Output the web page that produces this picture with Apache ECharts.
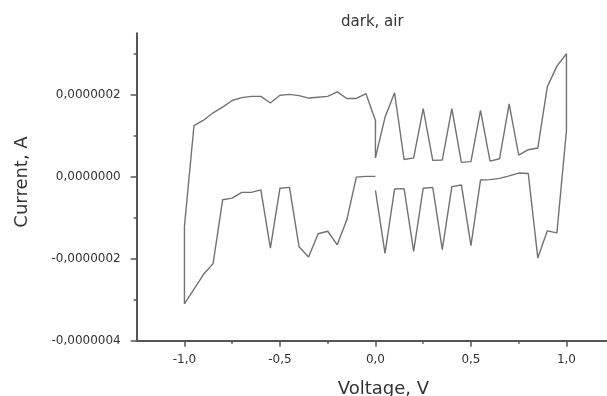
<!DOCTYPE html>
<html>
<head>
<meta charset="utf-8">
<script src="https://cdn.jsdelivr.net/npm/echarts@6/dist/echarts.min.js"></script>
<style>html,body{margin:0;padding:0;background:#fff}#c{width:607px;height:396px}</style>
</head>
<body>
<div id="c"></div>
<script>
// Voltage (V) and current (units of 1e-7 A), in sweep order
var voltage = [0.00,-0.05,-0.10,-0.15,-0.20,-0.25,-0.30,-0.35,-0.40,-0.45,-0.50,-0.55,-0.60,-0.65,-0.70,-0.75,-0.80,-0.85,-0.90,-0.95,-1.00,-1.00,
  -0.95,-0.90,-0.85,-0.80,-0.75,-0.70,-0.65,-0.60,-0.55,-0.50,-0.45,-0.40,-0.35,-0.30,-0.25,-0.20,-0.15,-0.10,-0.05,0.00,
  0.00,0.05,0.10,0.15,0.20,0.25,0.30,0.35,0.40,0.45,0.50,0.55,0.60,0.65,0.70,0.75,0.80,0.85,0.90,0.95,1.00,
  1.00,0.95,0.90,0.85,0.80,0.75,0.70,0.65,0.60,0.55,0.50,0.45,0.40,0.35,0.30,0.25,0.20,0.15,0.10,0.05,0.00];
var current = [0.01,0.01,-0.01,-1.05,-1.66,-1.33,-1.39,-1.96,-1.71,-0.26,-0.28,-1.74,-0.32,-0.38,-0.38,-0.52,-0.56,-2.12,-2.38,-2.74,-3.10,-1.21,
  1.25,1.38,1.56,1.70,1.86,1.93,1.96,1.96,1.80,1.99,2.01,1.98,1.92,1.94,1.96,2.07,1.91,1.91,2.03,1.37,
  0.46,1.45,2.05,0.42,0.46,1.66,0.40,0.41,1.66,0.35,0.37,1.62,0.38,0.44,1.78,0.53,0.66,0.70,2.20,2.70,3.00,
  1.13,-1.37,-1.32,-1.98,0.08,0.09,0.02,-0.04,-0.07,-0.08,-1.68,-0.20,-0.24,-1.78,-0.26,-0.28,-1.82,-0.29,-0.30,-1.87,-0.33];
var currentUnit = 1e-7;
var xMajorTicks = [-1.0,-0.5,0.0,0.5,1.0];
var xMinorTicks = [-0.75,-0.25,0.25,0.75];
var yMajorTicks = [-4,-2,0,2];
var yMinorTicks = [-3,-1,1,3];
var titleText = 'dark, air';
var xName = 'Voltage, V';
var yName = 'Current, A';

var FONT = 'DejaVu Sans';
var data = voltage.map(function(v, i){ return [v, current[i] * currentUnit]; });
function sc(a){ return a.map(function(v){ return v * currentUnit; }); }
function fmtX(v){ return v.toFixed(1).replace('.', ','); }
function fmtY(v){
  var n = Math.round(v / currentUnit);
  return (n < 0 ? '-' : '') + '0,000000' + Math.abs(n);
}
var axisColor = '#555';
var chart = echarts.init(document.getElementById('c'), null, {renderer:'canvas'});
chart.setOption({
  backgroundColor: '#ffffff',
  animation: false,
  title: {text: titleText, left: 336, top: 10, textStyle:{fontFamily: FONT, fontSize: 15, fontWeight:'normal', color:'#333'}},
  grid: {left: 136.7, width: 477.5, top: 33.3, height: 307.4, containLabel: false, outerBoundsMode: 'none'},
  xAxis: [{
    type:'value', min:-1.25, max:1.25, position:'bottom',
    axisLine:{show:true, onZero:false, lineStyle:{color:axisColor, width:2}},
    axisTick:{show:true, customValues: xMajorTicks, length:6, lineStyle:{color:axisColor, width:1.5}},
    axisLabel:{show:true, customValues: xMajorTicks, formatter: fmtX, margin: 13, fontFamily: FONT, fontSize: 12, color:'#333'},
    splitLine:{show:false},
    name: xName, nameLocation:'middle', nameGap: 40,
    nameTextStyle:{fontFamily: FONT, fontSize: 18, color:'#333', padding:[0,0,0,16]}
  },{
    type:'value', min:-1.25, max:1.25, position:'bottom',
    axisLine:{show:false, onZero:false},
    axisTick:{show:true, customValues: xMinorTicks, length:3, lineStyle:{color:axisColor, width:1.5}},
    axisLabel:{show:false}, splitLine:{show:false}
  }],
  yAxis: [{
    type:'value', min:-4*currentUnit, max:3.5*currentUnit, position:'left',
    axisLine:{show:true, onZero:false, lineStyle:{color:axisColor, width:2}},
    axisTick:{show:true, customValues: sc(yMajorTicks), length:6, lineStyle:{color:axisColor, width:1.5}},
    axisLabel:{show:true, customValues: sc(yMajorTicks), formatter: fmtY, margin: 16, fontFamily: FONT, fontSize: 12, color:'#333'},
    splitLine:{show:false},
    name: yName, nameLocation:'middle', nameGap: 105,
    nameTextStyle:{fontFamily: FONT, fontSize: 18, color:'#333', padding:[0,0,0,10]}
  },{
    type:'value', min:-4*currentUnit, max:3.5*currentUnit, position:'left',
    axisLine:{show:false, onZero:false},
    axisTick:{show:true, customValues: sc(yMinorTicks), length:3, lineStyle:{color:axisColor, width:1.5}},
    axisLabel:{show:false}, splitLine:{show:false}
  }],
  series: [{
    type:'line', xAxisIndex:0, yAxisIndex:0, data: data,
    showSymbol:false, symbol:'none', smooth:false,
    lineStyle:{color:'#727272', width:1.4}
  }]
});
</script>
</body>
</html>
